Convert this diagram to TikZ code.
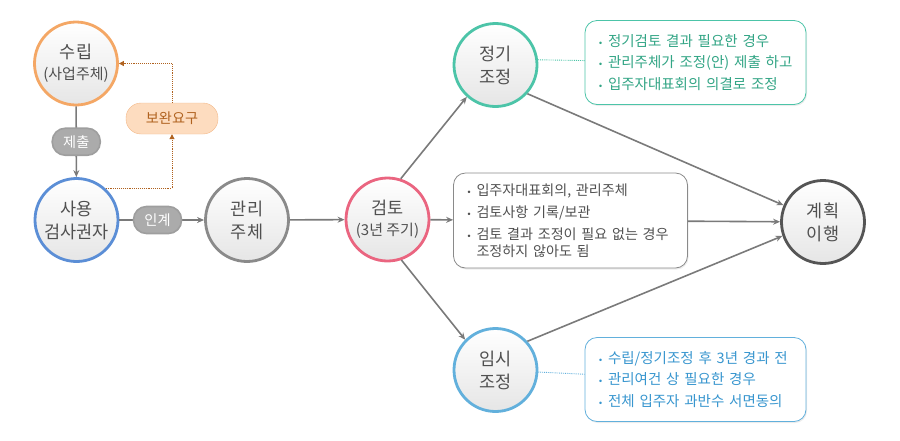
\documentclass[tikz,border=0pt]{standalone}
\usepackage{fontspec}
\setmainfont{Noto Sans CJK KR}
\newfontfamily\dotfont{DejaVu Sans}
\usetikzlibrary{arrows.meta,shadows}
\definecolor{ora}{HTML}{F4A765}
\definecolor{blu}{HTML}{5B8ED6}
\definecolor{gry}{HTML}{8A8A8A}
\definecolor{pnk}{HTML}{EA6580}
\definecolor{tea}{HTML}{4CC4A8}
\definecolor{sky}{HTML}{62B0DC}
\definecolor{drk}{HTML}{555555}
\definecolor{arr}{HTML}{7A7A7A}
\definecolor{txt}{HTML}{505050}
\definecolor{teatxt}{HTML}{32A585}
\definecolor{skytxt}{HTML}{3896CF}
\definecolor{brn}{HTML}{B0621F}
\definecolor{pch}{HTML}{FDDCBF}
\definecolor{pchd}{HTML}{F3B888}
\newcommand{\itm}{\makebox[10pt][l]{\dotfont\fontsize{8.5}{8.5}\selectfont •}}
\newcommand{\sm}{\fontsize{15}{20}\selectfont}
\begin{document}
\begin{tikzpicture}[x=1pt,y=-1pt,
    stage/.style={circle,draw=#1,line width=2.8pt,minimum size=83pt,inner sep=0pt,
      top color=white,bottom color=black!10,text=txt,align=center,
      font=\fontsize{17.5}{23}\selectfont},
    tag/.style={draw=black!38,fill=black!33,text=white,rounded corners=13pt,
      minimum width=48pt,minimum height=27pt,inner sep=0pt,
      font=\fontsize{14.2}{14.2}\selectfont},
    note/.style={draw=#1,line width=0.8pt,rounded corners=12pt,fill=white,align=left,
      inner xsep=13pt,font=\fontsize{14.5}{21.5}\selectfont,
      drop shadow={opacity=0.15,shadow xshift=1pt,shadow yshift=-1.5pt}},
    link/.style={draw=arr,line width=1.6pt,-{Stealth[length=7pt,width=6pt]}}]
  \useasboundingbox (0,0) rectangle (900,440);
  \node[stage=ora] (0) at (76,63.5) {수립\\[-2pt]{\sm(사업주체)}};
  \node[stage=blu] (1) at (76.5,220) {사용\\검사권자};
  \node[stage=gry] (2) at (247,220) {관리\\주체};
  \node[stage=pnk] (3) at (387.5,219.5) {검토\\[-2pt]{\sm(3년 주기)}};
  \node[stage=tea] (4) at (495.5,65) {정기\\조정};
  \node[stage=sky] (5) at (495.5,370) {임시\\조정};
  \node[stage=drk] (6) at (823,222) {계획\\이행};
  \node[note=gry,text=txt,text width=208pt,minimum height=95pt,
    font=\fontsize{14.1}{17}\selectfont] (b0) at (570.5,220.5)
    {\itm 입주자대표회의, 관리주체\\[5pt]\itm 검토사항 기록/보관\\[5pt]
     \itm 검토 결과 조정이 필요 없는 경우\\\hspace*{10pt}조정하지 않아도 됨};
  \node[note=tea,text=teatxt,text width=195pt,minimum height=84pt] (b1) at (695.5,62.5)
    {\itm 정기검토 결과 필요한 경우\\\itm 관리주체가 조정(안) 제출 하고\\\itm 입주자대표회의 의결로 조정};
  \node[note=sky,text=skytxt,text width=195pt,minimum height=84pt] (b2) at (695.5,379.5)
    {\itm 수립/정기조정 후 3년 경과 전\\\itm 관리여건 상 필요한 경우\\\itm 전체 입주자 과반수 서면동의};
  \node[tag,fill=pch,draw=pchd,text=brn,minimum width=92pt,minimum height=31pt,
    rounded corners=15pt] (l3) at (172,118.5) {보완요구};
  \begin{scope}[link]
    \draw (0) to node[tag]{제출} (1);
    \draw (1) to node[tag,pos=0.45]{인계} (2);
    \draw (2) to (3);
    \draw (3.72) to (4.228);
    \draw (3.289) to (5.135);
    \draw (3) to (b0);
    \draw (4.318) to (6.157);
    \draw (b0) to (6);
    \draw (5.42) to (6.199);
  \end{scope}
  \begin{scope}[brn,densely dotted,line width=0.9pt,-{Triangle[length=5pt,width=5pt]}]
    \draw (1.47) -| (l3.south);
    \draw (l3.north) |- (0.east);
  \end{scope}
  \begin{scope}[densely dotted,line width=0.9pt]
    \draw[tea] (4.7) to (b1);
    \draw[sky] (5) to (b2);
  \end{scope}
\end{tikzpicture}
\end{document}
